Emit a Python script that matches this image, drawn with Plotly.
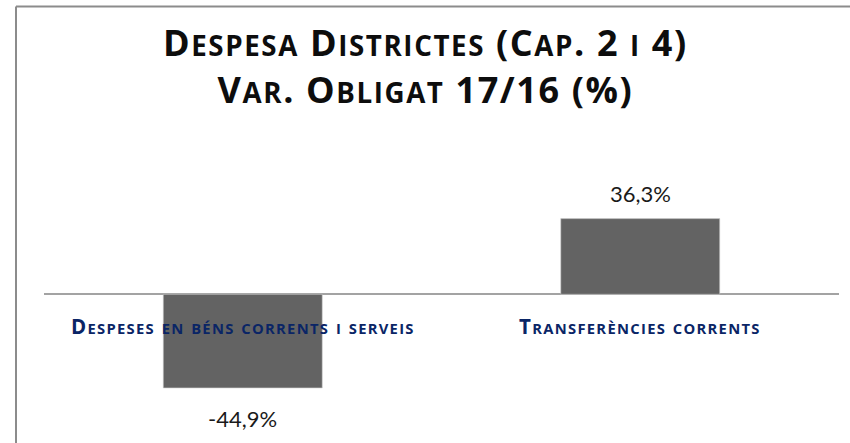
import plotly.graph_objects as go

# Chart data
categories = ["Despeses en béns corrents i serveis", "Transferències corrents"]
variation = [-44.9, 36.3]
title_lines = ["Despesa Districtes (Cap. 2 i 4)", "Var. Obligat 17/16 (%)"]

BAR_COLOR = "#636363"
LABEL_BLUE = "#0a2566"
FRAME_GRAY = "#8c8c8c"
FONT = "Lato"
HEAD_FONT = "Open Sans"

# plot area geometry (pixels) used to place paper-referenced items
ML, MR, MT, MB = 44, 11, 150, 0
W, H = 850, 443
PW, PH = W - ML - MR, H - MT - MB


def px_x(px):
    return (px - ML) / PW


def px_y(py):
    return (H - MB - py) / PH


def small_caps(text, ratio, spacing):
    """Render lowercase letters as reduced-size capitals, with tracking."""
    out, run = [], ""
    for ch in text:
        if ch.isalpha() and ch.islower():
            run += ch.upper()
        else:
            if run:
                out.append(f"<span style='font-size:{ratio * 100:.0f}%'>{run}</span>")
                run = ""
            out.append(ch)
    if run:
        out.append(f"<span style='font-size:{ratio * 100:.0f}%'>{run}</span>")
    return f"<span style='letter-spacing:{spacing}px'>" + "".join(out) + "</span>"


fig = go.Figure(
    go.Bar(
        x=categories,
        y=variation,
        marker=dict(color=BAR_COLOR, line=dict(color="#d0d0d0", width=0.6)),
        hoverinfo="skip",
    )
)

annotations = []
# value labels above / below each bar
for cat, val in zip(categories, variation):
    annotations.append(
        dict(
            x=cat, y=val, xref="x", yref="y",
            text=f"{val:.1f}%".replace(".", ","),
            showarrow=False,
            yanchor="middle",
            yshift=25 if val >= 0 else -31,
            font=dict(family=FONT, size=22, color="#1a1a1a"),
        )
    )
# category names just below the zero line
for cat in categories:
    annotations.append(
        dict(
            x=cat, y=0, xref="x", yref="y",
            text=small_caps(cat, 0.72, 1.3),
            showarrow=False,
            yanchor="middle",
            yshift=-32,
            font=dict(family=HEAD_FONT, size=20.5, color=LABEL_BLUE, weight="bold"),
        )
    )
# two-line title
annotations.append(
    dict(
        x=px_x(425), y=px_y(66), xref="paper", yref="paper",
        text="<br>".join(small_caps(line, 0.77, 1.6) for line in title_lines),
        showarrow=False,
        xanchor="center", yanchor="middle", align="center",
        font=dict(family=HEAD_FONT, size=36, color="#0d0d0d", weight="bold"),
    )
)

fig.update_layout(
    width=W,
    height=H,
    margin=dict(l=ML, r=MR, t=MT, b=MB),
    paper_bgcolor="white",
    plot_bgcolor="white",
    separators=",.",
    showlegend=False,
    bargap=0.6,
    xaxis=dict(showticklabels=False, showgrid=False, zeroline=False,
               showline=False, ticks=""),
    yaxis=dict(range=[-71.3, 69.2], showticklabels=False, showgrid=False,
               zeroline=True, zerolinecolor="#a3a3a3", zerolinewidth=2,
               showline=False, ticks=""),
    annotations=annotations,
    shapes=[
        dict(type="line", xref="paper", yref="paper",
             x0=px_x(16), x1=px_x(16), y0=-0.2, y1=px_y(6.5),
             line=dict(color=FRAME_GRAY, width=2)),
        dict(type="line", xref="paper", yref="paper",
             x0=px_x(16), x1=1.2, y0=px_y(6.5), y1=px_y(6.5),
             line=dict(color=FRAME_GRAY, width=2)),
    ],
)

fig.write_html("out.html")
